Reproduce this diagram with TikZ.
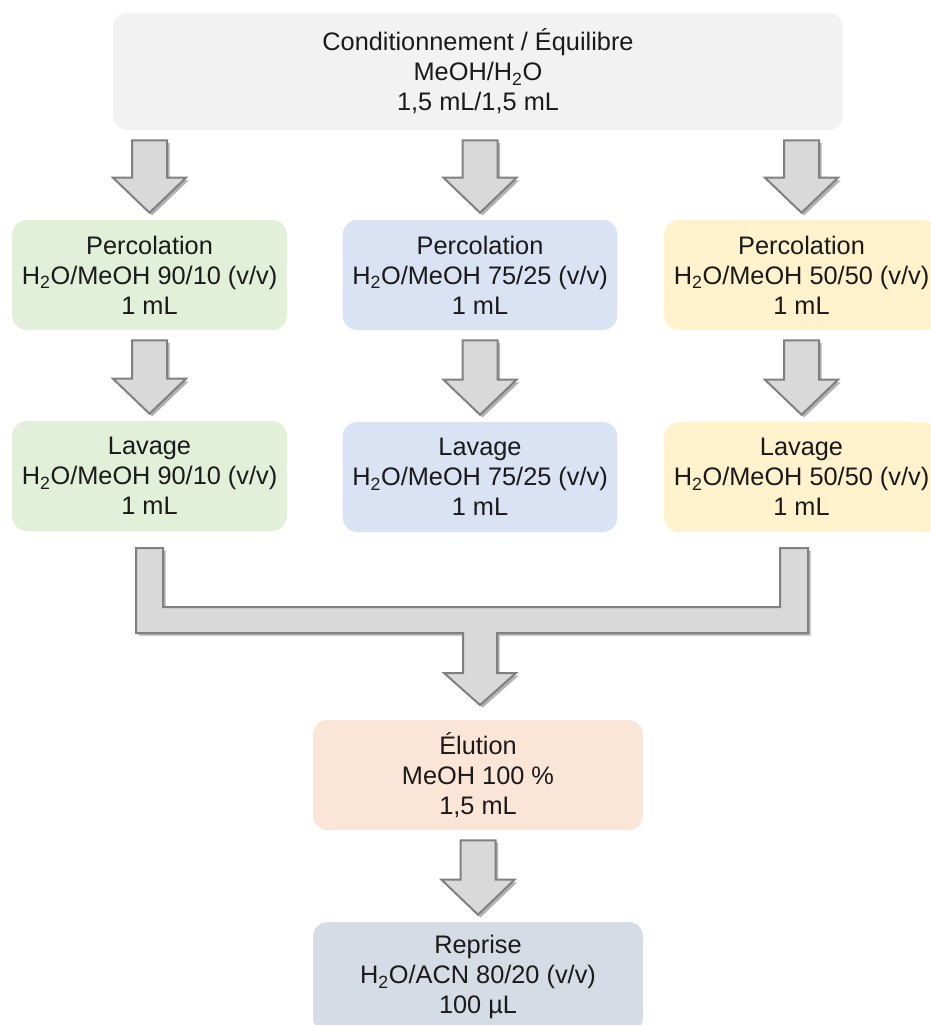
\documentclass[tikz,border=0pt]{standalone}
\usepackage{fontspec}
\setmainfont{Liberation Sans}
\usetikzlibrary{calc,shadows}
\definecolor{arrfill}{HTML}{D9D9D9}
\definecolor{arrdraw}{HTML}{808080}
\definecolor{cgray}{HTML}{F2F2F2}
\definecolor{cgreen}{HTML}{E2F0D9}
\definecolor{cblue}{HTML}{DAE3F3}
\definecolor{cyellow}{HTML}{FFF2CC}
\definecolor{corange}{HTML}{FBE5D6}
\definecolor{cslate}{HTML}{D6DCE5}
\definecolor{txt}{HTML}{1A1A1A}
\newcommand\barrow[2]{%
  \path[barrowstyle] ($(#2.north |- #1.south)+(-17.5,10)$) -- ($(#2.north |- #1.south)+(17.5,10)$)
    -- ($(#2.north)+(17.5,-42)$) -- ($(#2.north)+(36.5,-42)$) -- ($(#2.north)+(0,-7)$)
    -- ($(#2.north)+(-36.5,-42)$) -- ($(#2.north)+(-17.5,-42)$) -- cycle;}
\begin{document}
\begin{tikzpicture}[x=0.75pt,y=-0.75pt,
  box/.style={rounded corners=11pt, align=center, text=txt, inner sep=0pt,
    font=\fontsize{19}{22.5}\selectfont, minimum width=206pt, minimum height=82.5pt},
  barrowstyle/.style={fill=arrfill, draw=arrdraw, line width=1.5pt, line join=miter,
    drop shadow={shadow xshift=2pt, shadow yshift=-2pt, opacity=0.3, fill=black}}]
\useasboundingbox (0,0) rectangle (931,1025);
\node[box, fill=cgray, minimum width=547.5pt, minimum height=88pt] (top) at (478,71.5)
  {Conditionnement / Équilibre\\MeOH/H\textsubscript{2}O\\1,5 mL/1,5 mL};
\node[box, fill=cgreen] (p1) at (149.5,275) {Percolation\\H\textsubscript{2}O/MeOH 90/10 (v/v)\\1 mL};
\node[box, fill=cblue] (p2) at (480,275) {Percolation\\H\textsubscript{2}O/MeOH 75/25 (v/v)\\1 mL};
\node[box, fill=cyellow] (p3) at (801.5,275) {Percolation\\H\textsubscript{2}O/MeOH 50/50 (v/v)\\1 mL};
\node[box, fill=cgreen] (l1) at (149.5,476) {Lavage\\H\textsubscript{2}O/MeOH 90/10 (v/v)\\1 mL};
\node[box, fill=cblue] (l2) at (480,477) {Lavage\\H\textsubscript{2}O/MeOH 75/25 (v/v)\\1 mL};
\node[box, fill=cyellow] (l3) at (801.5,477) {Lavage\\H\textsubscript{2}O/MeOH 50/50 (v/v)\\1 mL};
\node[box, fill=corange, minimum width=247.5pt] (el) at (478,775) {Élution\\MeOH 100 \%\\1,5 mL};
\node[box, fill=cslate, minimum width=247.5pt] (re) at (478,977) {Reprise\\H\textsubscript{2}O/ACN 80/20 (v/v)\\100 µL};
\barrow{top}{p1}
\barrow{top}{p2}
\barrow{top}{p3}
\barrow{p1}{l1}
\barrow{p2}{l2}
\barrow{p3}{l3}
\barrow{el}{re}
\path[barrowstyle] (136,548) -- (163,548) -- (163,607) -- (780,607) -- (780,548) -- (808,548)
  -- (808,633) -- (497,633) -- (497,673) -- (516,673) -- (480,705) -- (444,673) -- (463,673)
  -- (463,633) -- (136,633) -- cycle;
\end{tikzpicture}
\end{document}
